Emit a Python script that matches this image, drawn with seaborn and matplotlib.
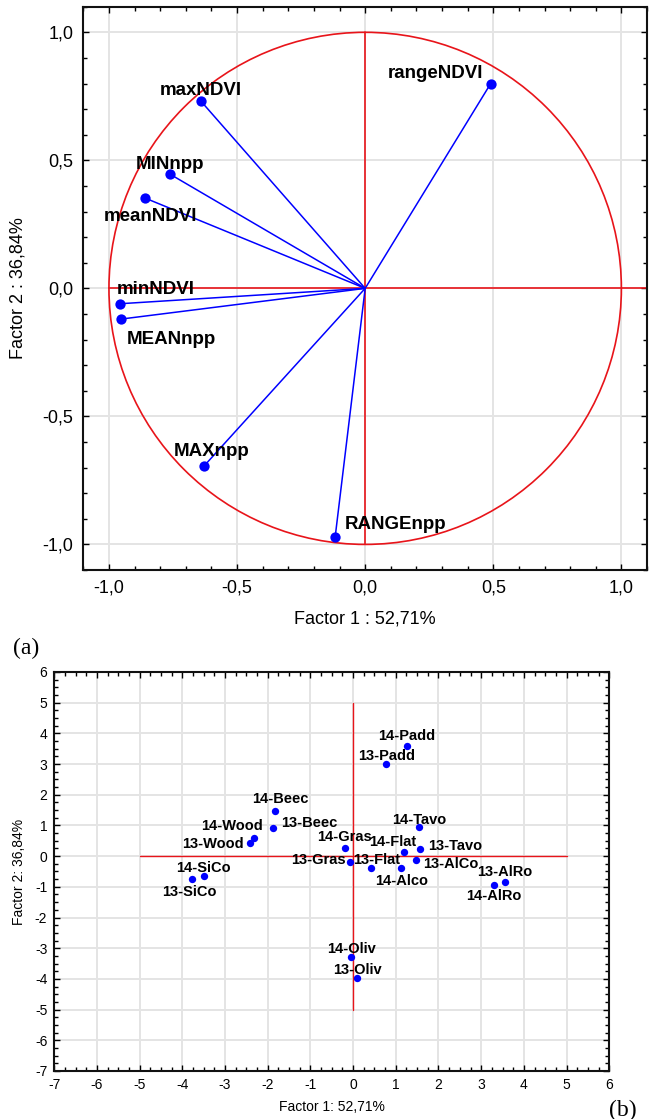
import numpy as np
import pandas as pd
import matplotlib
matplotlib.use("Agg")
import matplotlib.pyplot as plt
from matplotlib.patches import Circle
from matplotlib.ticker import MultipleLocator, FuncFormatter
import seaborn as sns

# --- data: (a) variable loadings ---
var_names = ["rangeNDVI", "maxNDVI", "MINnpp", "meanNDVI", "minNDVI",
             "MEANnpp", "MAXnpp", "RANGEnpp"]
var_f1 = [0.49, -0.64, -0.76, -0.86, -0.956, -0.953, -0.63, -0.117]
var_f2 = [0.80, 0.73, 0.445, 0.353, -0.060, -0.120, -0.695, -0.970]

# --- data: (b) site scores ---
site_names = ["14-Padd", "13-Padd", "14-Beec", "13-Beec", "14-Wood", "13-Wood",
              "14-SiCo", "13-SiCo", "14-Gras", "13-Gras", "13-Flat", "14-Flat",
              "14-Alco", "13-AlCo", "13-Tavo", "14-Tavo", "13-AlRo", "14-AlRo",
              "14-Oliv", "13-Oliv"]
site_f1 = [1.26, 0.78, -1.82, -1.88, -2.33, -2.41, -3.50, -3.78, -0.20, -0.08,
           0.41, 1.19, 1.12, 1.48, 1.57, 1.54, 3.55, 3.31, -0.04, 0.09]
site_f2 = [3.60, 3.01, 1.47, 0.91, 0.59, 0.43, -0.66, -0.73, 0.27, -0.19,
           -0.38, 0.12, -0.39, -0.12, 0.23, 0.96, -0.84, -0.94, -3.27, -3.98]

# label offsets in pixels (dx, dy up) and horizontal alignment
var_lab = {
    "rangeNDVI": (-7, 10, "right"), "maxNDVI": (0, 11, "center"),
    "MINnpp": (0, 10, "center"), "meanNDVI": (6, -19, "center"),
    "minNDVI": (-3, 14, "left"), "MEANnpp": (6, -20, "left"),
    "MAXnpp": (8, 15, "center"), "RANGEnpp": (10, 12, "left"),
}
site_lab = {
    "14-Padd": (0, 10, "center"), "13-Padd": (0, 8, "center"),
    "14-Beec": (5, 12, "center"), "13-Beec": (8, 5, "left"),
    "14-Wood": (9, 12, "right"), "13-Wood": (-6, -1, "right"),
    "14-SiCo": (0, 8, "center"), "13-SiCo": (-2, -13, "center"),
    "14-Gras": (0, 11, "center"), "13-Gras": (-4, 2, "right"),
    "13-Flat": (6, 8, "center"), "14-Flat": (-11, 10, "center"),
    "14-Alco": (1, -13, "center"), "13-AlCo": (7, -4, "left"),
    "13-Tavo": (8, 3, "left"), "14-Tavo": (0, 7, "center"),
    "13-AlRo": (0, 10, "center"), "14-AlRo": (-1, -11, "center"),
    "14-Oliv": (0, 8, "center"), "13-Oliv": (0, 8, "center"),
}

loadings = pd.DataFrame({"name": var_names, "f1": var_f1, "f2": var_f2})
scores = pd.DataFrame({"name": site_names, "f1": site_f1, "f2": site_f2})

sns.set_style("white")
plt.rcParams["font.family"] = ["Liberation Sans", "DejaVu Sans"]
plt.rcParams["axes.unicode_minus"] = False
plt.rcParams["text.color"] = "black"
plt.rcParams["axes.labelcolor"] = "black"
plt.rcParams["xtick.color"] = "black"
plt.rcParams["ytick.color"] = "black"
narrow = ["Liberation Sans Narrow", "Liberation Sans", "DejaVu Sans"]
BLUE = "#0000ff"
RED = "#e8141a"
GRID = "#e4e4e4"

fig = plt.figure(figsize=(6.5, 11.19), dpi=100)


def comma(v, pos):
    return f"{v:.1f}".replace(".", ",")


def style_axes(ax, major, minor, fsize):
    ax.xaxis.set_major_locator(MultipleLocator(major))
    ax.yaxis.set_major_locator(MultipleLocator(major))
    ax.xaxis.set_minor_locator(MultipleLocator(minor))
    ax.yaxis.set_minor_locator(MultipleLocator(minor))
    ax.grid(True, which="major", color=GRID, lw=1.4, zorder=0)
    ax.set_axisbelow(True)
    ax.tick_params(which="both", direction="in", top=True, right=True,
                   bottom=True, left=True, color="black", width=1)
    ax.tick_params(which="major", length=4, labelsize=fsize, pad=7)
    ax.tick_params(which="minor", length=3)
    for s in ax.spines.values():
        s.set_color("#111111")
        s.set_linewidth(1.5)


# --- (a) loadings circle ---
ax1 = fig.add_axes([0.1282, 0.4906, 0.8672, 0.5034])
ax1.set_xlim(-1.1, 1.1)
ax1.set_ylim(-1.1, 1.1)
style_axes(ax1, 0.5, 0.1, 13)
ax1.xaxis.set_major_formatter(FuncFormatter(comma))
ax1.yaxis.set_major_formatter(FuncFormatter(comma))
ax1.add_patch(Circle((0, 0), 1.0, fill=False, ec=RED, lw=1.2, zorder=2))
ax1.plot([-1, 1.1], [0, 0], color=RED, lw=1.2, zorder=2)
ax1.plot([0, 0], [-1, 1], color=RED, lw=1.2, zorder=2)
for _, r in loadings.iterrows():
    ax1.plot([0, r.f1], [0, r.f2], color=BLUE, lw=1.1, zorder=3)
sns.scatterplot(data=loadings, x="f1", y="f2", ax=ax1, color=BLUE, s=55,
                edgecolor=BLUE, linewidth=0, zorder=4)
for _, r in loadings.iterrows():
    dx, dy, ha = var_lab[r["name"]]
    ax1.annotate(r["name"], (r.f1, r.f2), xytext=(dx, dy),
                 textcoords="offset pixels", ha=ha, va="center",
                 fontsize=13.5, fontweight="bold", family=narrow, zorder=5)
ax1.set_xlabel("Factor 1 : 52,71%", fontsize=13, labelpad=10)
ax1.set_ylabel("Factor 2 : 36,84%", fontsize=13, labelpad=12)

# --- (b) site scores ---
ax2 = fig.add_axes([0.0835, 0.0429, 0.8538, 0.3566])
ax2.set_xlim(-7, 6)
ax2.set_ylim(-7, 6)
style_axes(ax2, 1, 0.25, 10)
ax2.tick_params(which="major", pad=5)
ax2.plot([-5, 5], [0, 0], color=RED, lw=1.0, zorder=2)
ax2.plot([0, 0], [-5, 5], color=RED, lw=1.0, zorder=2)
sns.scatterplot(data=scores, x="f1", y="f2", ax=ax2, color=BLUE, s=28,
                linewidth=0, zorder=4)
for _, r in scores.iterrows():
    dx, dy, ha = site_lab[r["name"]]
    ax2.annotate(r["name"], (r.f1, r.f2), xytext=(dx, dy),
                 textcoords="offset pixels", ha=ha, va="center",
                 fontsize=10.5, fontweight="bold", family=narrow, zorder=5)
ax2.set_xlabel("Factor 1: 52,71%", fontsize=10, labelpad=6)
ax2.set_ylabel("Factor 2: 36,84%", fontsize=10, labelpad=6)

fig.text(0.04, 1 - 648 / 1119, "(a)", fontsize=17,
         family=["Liberation Serif", "DejaVu Serif"], ha="center", va="center")
fig.text(0.98, 1 - 1110 / 1119, "(b)", fontsize=17,
         family=["Liberation Serif", "DejaVu Serif"], ha="right", va="center")

fig.savefig("out.png", dpi=100)
